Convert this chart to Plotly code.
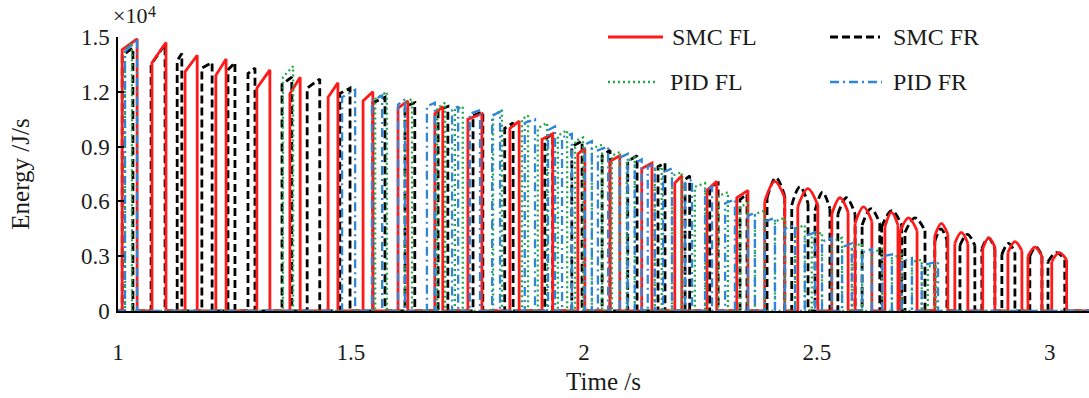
import plotly.graph_objects as go

# ---- SMC, front-left wheel: rectangular pulses, then rounded pulses ----
smc_fl_on = [1.009, 1.073, 1.144, 1.210, 1.298, 1.369, 1.451, 1.526, 1.601, 1.680,
             1.751, 1.841, 1.910, 1.987, 2.056, 2.124, 2.195, 2.264, 2.328]
smc_fl_off = [1.041, 1.103, 1.170, 1.232, 1.326, 1.391, 1.472, 1.547, 1.622, 1.697,
              1.781, 1.861, 1.933, 2.002, 2.077, 2.146, 2.210, 2.285, 2.352]
smc_fl_h_on = [1.43, 1.36, 1.31, 1.29, 1.22, 1.19, 1.17, 1.15, 1.11, 1.08,
               1.05, 1.00, 0.94, 0.86, 0.82, 0.78, 0.70, 0.66, 0.62]
smc_fl_h_off = [1.49, 1.47, 1.40, 1.38, 1.32, 1.28, 1.25, 1.20, 1.15, 1.12,
                1.08, 1.04, 0.97, 0.89, 0.85, 0.81, 0.74, 0.71, 0.66]
smc_fl_dome_on = [2.388, 2.459, 2.532, 2.582, 2.646, 2.678, 2.753, 2.796, 2.856, 2.910, 2.953, 3.004]
smc_fl_dome_off = [2.431, 2.502, 2.567, 2.618, 2.674, 2.715, 2.781, 2.824, 2.882, 2.940, 2.983, 3.036]
smc_fl_dome_rise = [0.60, 0.57, 0.53, 0.48, 0.46, 0.43, 0.41, 0.37, 0.34, 0.32, 0.30, 0.27]
smc_fl_dome_peak = [0.71, 0.67, 0.62, 0.57, 0.54, 0.51, 0.48, 0.43, 0.40, 0.38, 0.35, 0.32]
smc_fl_dome_fall = [0.62, 0.58, 0.54, 0.49, 0.47, 0.44, 0.42, 0.37, 0.35, 0.33, 0.30, 0.28]

# ---- SMC, front-right wheel ----
smc_fr_on = [1.009, 1.071, 1.127, 1.180, 1.236, 1.279, 1.352, 1.406, 1.476, 1.547, 1.616,
             1.687, 1.762, 1.830, 1.916, 1.974, 2.039, 2.094, 2.159, 2.217, 2.270, 2.335]
smc_fr_off = [1.032, 1.101, 1.137, 1.202, 1.251, 1.294, 1.373, 1.433, 1.498, 1.573, 1.637,
              1.708, 1.783, 1.848, 1.933, 1.996, 2.056, 2.114, 2.174, 2.227, 2.288, 2.350]
smc_fr_h_on = [1.40, 1.35, 1.37, 1.33, 1.32, 1.30, 1.24, 1.22, 1.19, 1.14, 1.12,
               1.10, 1.07, 1.00, 0.94, 0.90, 0.85, 0.82, 0.79, 0.72, 0.68, 0.61]
smc_fr_h_off = [1.44, 1.46, 1.41, 1.36, 1.36, 1.33, 1.28, 1.27, 1.22, 1.17, 1.14,
                1.12, 1.09, 1.03, 0.97, 0.93, 0.88, 0.85, 0.81, 0.74, 0.70, 0.64]
smc_fr_dome_on = [2.393, 2.446, 2.496, 2.545, 2.597, 2.639, 2.689, 2.753, 2.807, 2.854, 2.897, 2.957, 2.996]
smc_fr_dome_off = [2.431, 2.481, 2.528, 2.582, 2.635, 2.682, 2.732, 2.779, 2.839, 2.882, 2.925, 2.983, 3.032]
smc_fr_dome_rise = [0.62, 0.58, 0.55, 0.53, 0.47, 0.46, 0.43, 0.38, 0.36, 0.34, 0.31, 0.30, 0.27]
smc_fr_dome_peak = [0.73, 0.68, 0.65, 0.62, 0.56, 0.55, 0.51, 0.45, 0.42, 0.40, 0.37, 0.35, 0.32]
smc_fr_dome_fall = [0.63, 0.59, 0.56, 0.53, 0.48, 0.47, 0.44, 0.39, 0.36, 0.34, 0.32, 0.30, 0.28]

# ---- PID, front-left wheel ----
pid_fl_on = [1.015, 1.354, 1.552, 1.616, 1.685, 1.723, 1.805, 1.867, 1.901, 1.944,
             1.981, 2.017, 2.060, 2.092, 2.152, 2.189, 2.238, 2.288, 2.335, 2.367,
             2.410, 2.453, 2.489, 2.532, 2.575, 2.618, 2.661, 2.704, 2.738]
pid_fl_off = [1.030, 1.376, 1.577, 1.631, 1.702, 1.740, 1.824, 1.880, 1.921, 1.964,
              1.998, 2.039, 2.077, 2.109, 2.167, 2.210, 2.260, 2.309, 2.352, 2.388,
              2.431, 2.474, 2.511, 2.554, 2.597, 2.640, 2.682, 2.725, 2.755]
pid_fl_h_on = [1.43, 1.28, 1.16, 1.14, 1.11, 1.10, 1.07, 1.05, 1.00, 0.96,
               0.93, 0.89, 0.85, 0.82, 0.77, 0.74, 0.68, 0.63, 0.57, 0.53,
               0.49, 0.45, 0.41, 0.38, 0.35, 0.32, 0.29, 0.27, 0.24]
pid_fl_h_off = [1.47, 1.34, 1.20, 1.16, 1.14, 1.12, 1.10, 1.07, 1.03, 0.99,
                0.95, 0.91, 0.87, 0.84, 0.79, 0.76, 0.70, 0.65, 0.59, 0.55,
                0.51, 0.47, 0.43, 0.40, 0.37, 0.34, 0.31, 0.28, 0.26]

# ---- PID, front-right wheel ----
pid_fr_on = [1.015, 1.481, 1.545, 1.601, 1.663, 1.717, 1.755, 1.803, 1.873, 1.923,
             1.953, 2.002, 2.030, 2.077, 2.109, 2.137, 2.170, 2.217, 2.260, 2.303,
             2.352, 2.388, 2.431, 2.474, 2.511, 2.554, 2.597, 2.640, 2.682, 2.725]
pid_fr_off = [1.041, 1.509, 1.567, 1.616, 1.680, 1.730, 1.777, 1.820, 1.895, 1.938,
              1.974, 2.017, 2.052, 2.094, 2.124, 2.152, 2.189, 2.232, 2.275, 2.324,
              2.367, 2.410, 2.453, 2.496, 2.532, 2.575, 2.618, 2.661, 2.704, 2.760]
pid_fr_h_on = [1.42, 1.17, 1.15, 1.13, 1.12, 1.10, 1.08, 1.07, 1.03, 0.99,
               0.95, 0.91, 0.88, 0.84, 0.81, 0.79, 0.76, 0.70, 0.66, 0.59,
               0.52, 0.49, 0.45, 0.41, 0.38, 0.35, 0.32, 0.30, 0.27, 0.25]
pid_fr_h_off = [1.49, 1.21, 1.18, 1.16, 1.14, 1.12, 1.10, 1.09, 1.05, 1.01,
                0.97, 0.93, 0.90, 0.86, 0.83, 0.80, 0.78, 0.72, 0.68, 0.61,
                0.54, 0.51, 0.47, 0.43, 0.40, 0.37, 0.34, 0.31, 0.29, 0.27]

x_ticks = [1, 1.5, 2, 2.5, 3]
x_tick_text = ["1", "1.5", "2", "2.5", "3"]
y_ticks = [0, 0.3, 0.6, 0.9, 1.2, 1.5]
y_tick_text = ["0", "0.3", "0.6", "0.9", "1.2", "1.5"]

T_START, T_END = 1.0, 3.084


def flat_pulses(on, off, h_on, h_off, t0, t1):
    """Zero-based waveform made of vertical-edged pulses with sloped tops."""
    xs, ys = [t0], [0.0]
    for a, b, h0, h1 in zip(on, off, h_on, h_off):
        xs += [a, a, b, b]
        ys += [0.0, h0, h1, 0.0]
    xs.append(t1)
    ys.append(0.0)
    return xs, ys


def dome_edges(on, off, rise, fall, t1):
    """Vertical flanks of the rounded pulses plus the zero line between them."""
    xs, ys = [], []
    for a, b, r, f in zip(on, off, rise, fall):
        xs += [a, a, None, b, b]
        ys += [0.0, r, None, f, 0.0]
    xs.append(t1)
    ys.append(0.0)
    return xs, ys


def dome_tops(on, off, rise, peak, fall):
    """Curved caps of the rounded pulses, one three-point arc per pulse."""
    xs, ys = [], []
    for a, b, r, p, f in zip(on, off, rise, peak, fall):
        xs += [a, 0.5 * (a + b), b, None]
        ys += [r, p, f, None]
    return xs, ys


FONT = "Liberation Serif, Times New Roman, serif"
RED, BLACK, GREEN, BLUE = "#ff1a1a", "#000000", "#1faa4a", "#2f86d6"
LINE_FR_SMC = dict(color=BLACK, width=2.8, dash="8px,4px")
LINE_FL_SMC = dict(color=RED, width=2.8, dash="solid")
LINE_FL_PID = dict(color=GREEN, width=2.3, dash="2px,3px")
LINE_FR_PID = dict(color=BLUE, width=2.3, dash="9px,4px,2px,4px")

fig = go.Figure()


def add(xs, ys, line, shape="linear"):
    fig.add_trace(go.Scatter(x=xs, y=ys, mode="lines",
                             line=dict(line, shape=shape, smoothing=1.0),
                             connectgaps=False, showlegend=False, hoverinfo="skip"))


def add_smc(on, off, h_on, h_off, d_on, d_off, d_rise, d_peak, d_fall, line):
    xs, ys = flat_pulses(on, off, h_on, h_off, T_START, d_on[0])
    add(xs, ys, line)
    xs, ys = dome_edges(d_on, d_off, d_rise, d_fall, T_END)
    add(xs, ys, line)
    xs, ys = dome_tops(d_on, d_off, d_rise, d_peak, d_fall)
    add(xs, ys, line, "spline")


add_smc(smc_fr_on, smc_fr_off, smc_fr_h_on, smc_fr_h_off, smc_fr_dome_on, smc_fr_dome_off,
        smc_fr_dome_rise, smc_fr_dome_peak, smc_fr_dome_fall, LINE_FR_SMC)
add_smc(smc_fl_on, smc_fl_off, smc_fl_h_on, smc_fl_h_off, smc_fl_dome_on, smc_fl_dome_off,
        smc_fl_dome_rise, smc_fl_dome_peak, smc_fl_dome_fall, LINE_FL_SMC)

xs, ys = flat_pulses(pid_fl_on, pid_fl_off, pid_fl_h_on, pid_fl_h_off, T_START, T_END)
add(xs, ys, LINE_FL_PID)
xs, ys = flat_pulses(pid_fr_on, pid_fr_off, pid_fr_h_on, pid_fr_h_off, T_START, T_END)
add(xs, ys, LINE_FR_PID)

# Plot area geometry in pixels, used to place the legend in paper coordinates
L, R, T, B = 118, 1089, 37, 311


def px(xp):
    return (xp - L) / (R - L)


def py(yp):
    return (B - yp) / (B - T)


legend_items = [
    ("SMC FL", LINE_FL_SMC, 608, 663, 37, 670),
    ("SMC FR", LINE_FR_SMC, 830, 880, 37, 891),
    ("PID FL", LINE_FL_PID, 608, 658, 82, 668),
    ("PID FR", LINE_FR_PID, 830, 882, 82, 891),
]
for label, line, x0, x1, yy, xt in legend_items:
    fig.add_shape(type="line", xref="paper", yref="paper",
                  x0=px(x0), x1=px(x1), y0=py(yy), y1=py(yy), line=line)
    fig.add_annotation(xref="paper", yref="paper", x=px(xt), y=py(yy),
                       xanchor="left", yanchor="middle", text=label, showarrow=False,
                       font=dict(family=FONT, size=24, color="#1a1a1a"))

# Axis multiplier, written as base and raised exponent
fig.add_annotation(xref="paper", yref="paper", x=px(112), y=py(16),
                   xanchor="left", yanchor="middle", text="×10",
                   showarrow=False, borderpad=0,
                   font=dict(family=FONT, size=22, color="#1a1a1a"))
fig.add_annotation(xref="paper", yref="paper", x=px(147), y=py(11),
                   xanchor="left", yanchor="middle", text="4",
                   showarrow=False, borderpad=0,
                   font=dict(family=FONT, size=16, color="#1a1a1a"))

fig.update_layout(
    width=1089, height=398,
    margin=dict(l=L, r=1089 - R, t=T, b=398 - B),
    paper_bgcolor="white", plot_bgcolor="white",
    font=dict(family=FONT, size=23, color="#1a1a1a"),
    xaxis=dict(range=[T_START, T_END], tickvals=x_ticks, ticktext=x_tick_text,
               showgrid=False, zeroline=False, showline=True, linecolor="black",
               linewidth=1.5, ticks="", ticklabelstandoff=20,
               title=dict(text="Time /s", font=dict(size=25), standoff=8)),
    yaxis=dict(range=[0, 1.5], tickvals=y_ticks, ticktext=y_tick_text,
               showgrid=False, zeroline=False, showline=True, linecolor="black",
               linewidth=1.5, ticks="inside", ticklen=6, tickwidth=1.5,
               tickcolor="black", ticklabelstandoff=2,
               title=dict(text="Energy /J/s", font=dict(size=25), standoff=44)),
)

fig.write_html("out.html")
